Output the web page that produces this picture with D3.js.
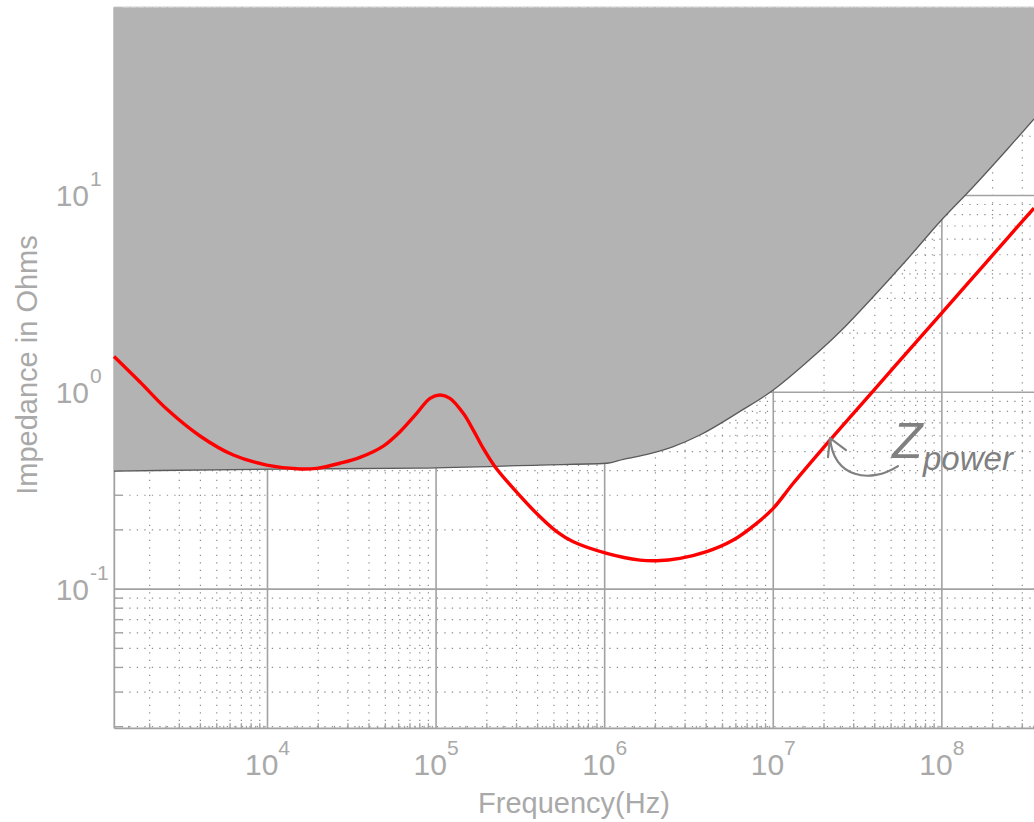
<!DOCTYPE html>
<html>
<head>
<meta charset="utf-8">
<script src="https://cdn.jsdelivr.net/npm/d3@7"></script>
<style>
  html, body { margin: 0; padding: 0; background: #ffffff; }
  svg { display: block; }
  text { font-family: "Liberation Sans", Arial, sans-serif; }
</style>
</head>
<body>
<svg id="chart" width="1034" height="822"></svg>
<script>
// ---- data ----
const freqPower = [1229, 1753, 2524, 3978, 6270, 9890, 15590, 19580, 26900, 35370, 48620, 61080, 76700, 92000, 105500, 120900, 145000, 166200, 190500, 223600, 287000, 413400, 519200, 651300, 1.028e6, 1.62e6, 2.034e6, 2.797e6, 4.027e6, 5.79e6, 7.97e6, 1.0e7, 1.314e7, 2.17e7, 3.92e7, 6.18e7, 9.74e7, 1.536e8, 2.423e8, 3.52e8];
const zPower = [1.52, 1.128, 0.822, 0.600, 0.480, 0.427, 0.408, 0.411, 0.436, 0.467, 0.533, 0.631, 0.782, 0.932, 0.969, 0.932, 0.782, 0.643, 0.519, 0.419, 0.325, 0.233, 0.196, 0.174, 0.152, 0.1405, 0.1394, 0.1434, 0.155, 0.1776, 0.216, 0.2574, 0.345, 0.572, 1.018, 1.587, 2.47, 3.85, 6.0, 8.63];

const freqTarget = [1229, 15590, 80270, 413400, 1.028e6, 1.289e6, 1.857e6, 2.553e6, 3.674e6, 6.346e6, 1.0e7, 1.578e7, 2.487e7, 3.92e7, 6.18e7, 9.74e7, 1.536e8, 2.423e8, 3.52e8];
const zTarget = [0.398, 0.408, 0.412, 0.427, 0.436, 0.4566, 0.488, 0.53, 0.607, 0.80, 1.027, 1.42, 2.03, 3.06, 4.70, 7.36, 11.08, 17.03, 24.47];

const xTickExps = [4, 5, 6, 7, 8];
const yTickExps = [-1, 0, 1];
const xDomain = [1234, 3.52e8];
const yDomain = [0.01963, 90.4];
const annotPoint = [2.17e7, 0.572];
const xTitle = "Frequency(Hz)";
const yTitle = "Impedance in Ohms";

// ---- layout ----
const svg = d3.select("#chart");
const pL = 114.3, pR = 1034, pT = 7.3, pB = 728.3;
const x = d3.scaleLog().domain(xDomain).range([pL, pR]);
const y = d3.scaleLog().domain(yDomain).range([pB, pT]);

const gridCol = "#a2a2a2";
const dotCol = "#8c8c8c";
const textCol = "#a9a9a9";

function minors(dom) {
  const out = [];
  const d0 = Math.floor(Math.log10(dom[0])), d1 = Math.ceil(Math.log10(dom[1]));
  for (let d = d0; d <= d1; d++) {
    for (let k = 2; k <= 9; k++) {
      const v = k * Math.pow(10, d);
      if (v > dom[0] && v < dom[1]) out.push(v);
    }
  }
  return out;
}
function halves(dom) {
  const out = [];
  const d0 = Math.floor(Math.log10(dom[0])), d1 = Math.ceil(Math.log10(dom[1]));
  for (let d = d0; d <= d1; d++) {
    for (let k = 1; k <= 9; k++) {
      const v = (k + 0.5) * Math.pow(10, d);
      if (v > dom[0] && v < dom[1]) out.push(v);
    }
  }
  return out;
}
const xMin = minors(xDomain), yMin = minors(yDomain);
const xMaj = xTickExps.map(e => Math.pow(10, e));
const yMaj = yTickExps.map(e => Math.pow(10, e));

const g = svg.append("g");

// minor dotted grid
g.selectAll("line.xmin").data(xMin).join("line")
  .attr("x1", d => x(d)).attr("x2", d => x(d))
  .attr("y1", pT).attr("y2", pB)
  .attr("stroke", dotCol).attr("stroke-width", 1.2)
  .attr("stroke-dasharray", "1.3,6.2");
g.selectAll("line.ymin").data(yMin).join("line")
  .attr("y1", d => y(d)).attr("y2", d => y(d))
  .attr("x1", pL).attr("x2", pR)
  .attr("stroke", dotCol).attr("stroke-width", 1.2)
  .attr("stroke-dasharray", "1.3,6.2");

// major grid
g.selectAll("line.xmaj").data(xMaj).join("line")
  .attr("x1", d => x(d)).attr("x2", d => x(d))
  .attr("y1", pT).attr("y2", pB)
  .attr("stroke", gridCol).attr("stroke-width", 1.6);
g.selectAll("line.ymaj").data(yMaj).join("line")
  .attr("y1", d => y(d)).attr("y2", d => y(d))
  .attr("x1", pL).attr("x2", pR)
  .attr("stroke", gridCol).attr("stroke-width", 1.6);

// ticks
g.selectAll("line.xt").data(xMin).join("line")
  .attr("x1", d => x(d)).attr("x2", d => x(d))
  .attr("y1", pB).attr("y2", pB - 5)
  .attr("stroke", gridCol).attr("stroke-width", 1.4);
g.selectAll("line.xth").data(halves(xDomain)).join("line")
  .attr("x1", d => x(d)).attr("x2", d => x(d))
  .attr("y1", pB).attr("y2", pB - 2.5)
  .attr("stroke", gridCol).attr("stroke-width", 1.2);
g.selectAll("line.yt").data(yMin).join("line")
  .attr("y1", d => y(d)).attr("y2", d => y(d))
  .attr("x1", pL).attr("x2", pL + 8)
  .attr("stroke", gridCol).attr("stroke-width", 1.4);

// axes lines
g.append("line").attr("x1", pL).attr("x2", pR).attr("y1", pB).attr("y2", pB)
  .attr("stroke", gridCol).attr("stroke-width", 1.8);
g.append("line").attr("x1", pL).attr("x2", pL).attr("y1", pT).attr("y2", pB)
  .attr("stroke", gridCol).attr("stroke-width", 1.8);

// shaded forbidden region above target
const targetData = freqTarget.map((f, i) => [f, zTarget[i]]);
const area = d3.area()
  .x(d => x(d[0]))
  .y0(pT)
  .y1(d => y(d[1]))
  .curve(d3.curveMonotoneX);
g.append("path").datum(targetData).attr("d", area).attr("fill", "#b3b3b3");
g.append("line").attr("x1", pL).attr("x2", pR).attr("y1", pT - 0.5).attr("y2", pT - 0.5)
  .attr("stroke", "#dcdcdc").attr("stroke-width", 1);
const tline = d3.line().x(d => x(d[0])).y(d => y(d[1])).curve(d3.curveMonotoneX);
g.append("path").datum(targetData).attr("d", tline)
  .attr("fill", "none").attr("stroke", "#5a5a5a").attr("stroke-width", 1.3);

// Z power curve
const powerData = freqPower.map((f, i) => [f, zPower[i]]);
const pline = d3.line().x(d => x(d[0])).y(d => y(d[1])).curve(d3.curveCatmullRom.alpha(0.5));
g.append("path").datum(powerData).attr("d", pline)
  .attr("fill", "none").attr("stroke", "#ff0000").attr("stroke-width", 3.4)
  .attr("stroke-linejoin", "round");

// tick labels
const xl = svg.append("g");
xMaj.forEach((v, i) => {
  const t = xl.append("text").attr("x", x(v)).attr("y", 775)
    .attr("text-anchor", "middle").attr("fill", textCol).attr("font-size", 30);
  t.append("tspan").text("10");
  t.append("tspan").attr("dy", -20).attr("font-size", 21).text(String(xTickExps[i]));
});
yMaj.forEach((v, i) => {
  xl.append("text").attr("x", 89).attr("y", y(v) + 11)
    .attr("text-anchor", "end").attr("fill", textCol).attr("font-size", 30).text("10");
  xl.append("text").attr("x", 90).attr("y", y(v) - 9)
    .attr("text-anchor", "start").attr("fill", textCol).attr("font-size", 21)
    .text(yTickExps[i] < 0 ? "-" + Math.abs(yTickExps[i]) : String(yTickExps[i]));
});

// axis titles
svg.append("text").attr("x", 574).attr("y", 813).attr("text-anchor", "middle")
  .attr("fill", textCol).attr("font-size", 29).text(xTitle);
svg.append("text").attr("transform", "translate(37,365) rotate(-90)").attr("text-anchor", "middle")
  .attr("fill", textCol).attr("font-size", 29).text(yTitle);

// annotation
const tx = x(annotPoint[0]), ty = y(annotPoint[1]) - 2;
const ann = svg.append("g").attr("stroke", "#808080").attr("fill", "none")
  .attr("stroke-width", 2.2).attr("stroke-linecap", "round").attr("stroke-linejoin", "round");
ann.append("path").attr("d",
  `M${tx + 68},${ty + 28} C${tx + 40},${ty + 46} ${tx + 4},${ty + 40} ${tx},${ty}`);
ann.append("path").attr("d",
  `M${tx - 2},${ty + 19} L${tx},${ty} L${tx + 16},${ty + 12}`);
const at = svg.append("text").attr("fill", "#808080").attr("font-style", "italic");
at.append("tspan").attr("x", tx + 62).attr("y", ty + 20).attr("font-size", 50).text("Z");
at.append("tspan").attr("x", tx + 93).attr("y", ty + 32).attr("font-size", 33).text("power");
</script>
</body>
</html>
